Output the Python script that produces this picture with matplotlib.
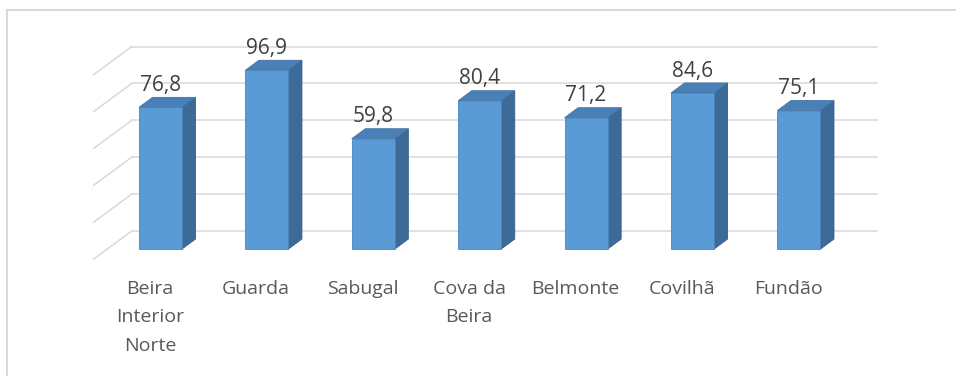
import matplotlib.pyplot as plt
from matplotlib.patches import Polygon

regioes = ["Beira\nInterior\nNorte", "Guarda", "Sabugal", "Cova da\nBeira",
           "Belmonte", "Covilhã", "Fundão"]
valores = [76.8, 96.9, 59.8, 80.4, 71.2, 84.6, 75.1]
rotulos = ["76,8", "96,9", "59,8", "80,4", "71,2", "84,6", "75,1"]
grelha = [0, 20, 40, 60, 80, 100]

plt.rcParams['font.family'] = ['Open Sans', 'DejaVu Sans']

# fake 3D: depth d goes from 0 (back wall) to 1 (front of the floor)
D_FRENTE = 0.643   # depth of the bar front faces
D_TRAS = 0.286     # depth of the bar back faces
DX = -0.357        # x shift (category units) per unit of depth
DY = -15.2         # y shift (value units) per unit of depth
MEIA = 0.202       # half width of a bar


def proj(x, v, d):
    return (x + (d - D_FRENTE) * DX, v + (d - D_FRENTE) * DY)


fig = plt.figure(figsize=(9.56, 3.76), dpi=100)
ax = fig.add_axes([0, 0, 1, 1])
ax.set_xlim(-1.508, 7.476)
ax.set_ylim(-68.8, 135.0)
ax.axis('off')

cinza = '#d9d9d9'
# back wall and left wall gridlines
for g in grelha:
    x0, y0 = proj(-0.5, g, 0)
    x1, y1 = proj(6.5, g, 0)
    ax.plot([x0, x1], [y0, y1], color=cinza, lw=1.1, zorder=1)
    x2, y2 = proj(-0.5, g, 1)
    ax.plot([x0, x2], [y0, y2], color=cinza, lw=1.1, zorder=1)

frente = '#5b9bd5'
topo = '#4a80b8'
lado = '#3d6a96'
for i, v in enumerate(valores):
    xl, xr = i - MEIA, i + MEIA
    f = [proj(xl, 0, D_FRENTE), proj(xr, 0, D_FRENTE),
         proj(xr, v, D_FRENTE), proj(xl, v, D_FRENTE)]
    s = [proj(xr, 0, D_FRENTE), proj(xr, 0, D_TRAS),
         proj(xr, v, D_TRAS), proj(xr, v, D_FRENTE)]
    t = [proj(xl, v, D_FRENTE), proj(xr, v, D_FRENTE),
         proj(xr, v, D_TRAS), proj(xl, v, D_TRAS)]
    ax.add_patch(Polygon(s, closed=True, fc=lado, ec='#35608a', lw=0.6, zorder=3))
    ax.add_patch(Polygon(t, closed=True, fc=topo, ec='#3f72a4', lw=0.6, zorder=3))
    ax.add_patch(Polygon(f, closed=True, fc=frente, ec='#4a84bd', lw=0.6, zorder=4))
    tx, ty = proj(i, v, D_TRAS)
    ax.text(i, ty + 3.5, rotulos[i], ha='center', va='baseline',
            fontsize=15, color='#404040', zorder=5)
    ax.text(i - 0.1, -16.5, regioes[i], ha='center', va='top', fontsize=14,
            color='#595959', linespacing=1.78, zorder=5)

# chart area border (top and left only)
fig.add_artist(plt.Line2D([7 / 956, 1], [1 - 10 / 376, 1 - 10 / 376],
                          color=cinza, lw=1.5, transform=fig.transFigure))
fig.add_artist(plt.Line2D([7 / 956, 7 / 956], [0, 1 - 10 / 376],
                          color=cinza, lw=1.5, transform=fig.transFigure))

fig.savefig('out.png', dpi=100, facecolor='white')
